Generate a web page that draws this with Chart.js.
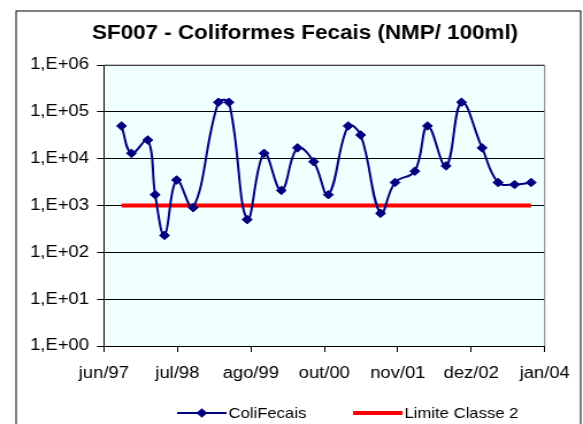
<!DOCTYPE html>
<html>
<head>
<meta charset="utf-8">
<title>SF007 - Coliformes Fecais</title>
<script src="https://cdn.jsdelivr.net/npm/chart.js@4.4.1/dist/chart.umd.min.js"></script>
<style>
    html, body { margin: 0; padding: 0; background: #fff; overflow: hidden; }
    #sf007Chart { display: block; }
</style>
</head>
<body>
<!-- desenhado com 507px de largura e esticado para 583px na horizontal -->
<canvas id="sf007Chart" width="507" height="424" style="width: 583px; height: 424px;"></canvas>
<script>
let inicio = '1997-06-20';   // origem do eixo x (jun/97)

let datas = [
    '1997-09-24', '1997-11-17', '1998-02-14', '1998-03-26', '1998-05-16', '1998-07-21',
    '1998-10-19', '1999-03-05', '1999-05-02', '1999-08-09', '1999-11-09', '2000-02-11',
    '2000-05-09', '2000-08-05', '2000-10-24', '2001-02-09', '2001-04-18', '2001-08-04',
    '2001-10-22', '2002-02-07', '2002-04-17', '2002-07-27', '2002-10-19', '2003-02-08',
    '2003-05-06', '2003-08-04', '2003-11-02'
];
let coliFecais = [
    50000, 13000, 25000, 1700, 230, 3500,
    900, 160000, 160000, 500, 13000, 2100,
    17000, 8600, 1700, 50000, 32000, 680,
    3100, 5400, 50000, 7000, 160000, 17000,
    3100, 2800, 3100
];
let limiteClasse2 = 1000;
let rotulosX = ['jun/97', 'jul/98', 'ago/99', 'out/00', 'nov/01', 'dez/02', 'jan/04'];
let decadasY = [1, 10, 100, 1000, 10000, 100000, 1000000];

let fonte = '"Liberation Sans", Arial, sans-serif';

function dia(d) {
    return (Date.parse(d) - Date.parse(inicio)) / 86400000;
}

// moldura do grafico, fundo da area de plotagem e legenda no estilo Excel
const molduraExcel = {
    id: 'molduraExcel',
    afterLayout(chart, args, opts) {
        let t = chart.titleBlock;
        if (t) {
            t.left += opts.deslocTitulo;
            t.right += opts.deslocTitulo;
        }
    },
    beforeDraw(chart, args, opts) {
        let ctx = chart.ctx;
        let a = chart.chartArea;
        ctx.save();
        ctx.fillStyle = '#fff';
        ctx.fillRect(0, 0, chart.width, chart.height);
        ctx.strokeStyle = '#000';
        ctx.lineWidth = 1;
        ctx.strokeRect(opts.moldura.left, opts.moldura.top, opts.moldura.right - opts.moldura.left, chart.height + 20);
        ctx.fillStyle = opts.fundo;
        ctx.fillRect(a.left, a.top, a.right - a.left, a.bottom - a.top);
        ctx.restore();
    },
    beforeDatasetsDraw(chart, args, opts) {
        let ctx = chart.ctx;
        let a = chart.chartArea;
        ctx.save();
        ctx.strokeStyle = opts.bordaPlot;
        ctx.lineWidth = 1;
        ctx.beginPath();
        ctx.moveTo(a.left, a.top);
        ctx.lineTo(a.right, a.top);
        ctx.lineTo(a.right, a.bottom);
        ctx.stroke();
        ctx.restore();
    },
    afterDraw(chart, args, opts) {
        let ctx = chart.ctx;
        let leg = opts.legenda;
        ctx.save();
        ctx.font = leg.tamanho + 'px ' + fonte;
        ctx.textBaseline = 'middle';
        ctx.textAlign = 'left';
        chart.data.datasets.forEach((ds, i) => {
            let x0 = leg.itens[i];
            let x1 = x0 + leg.linha;
            ctx.strokeStyle = ds.borderColor;
            ctx.lineWidth = ds.borderWidth;
            ctx.beginPath();
            ctx.moveTo(x0, leg.y);
            ctx.lineTo(x1, leg.y);
            ctx.stroke();
            if (ds.pointRadius > 0) {
                let xm = (x0 + x1) / 2;
                let r = ds.pointRadius + 0.5;
                ctx.fillStyle = ds.backgroundColor;
                ctx.beginPath();
                ctx.moveTo(xm, leg.y - r);
                ctx.lineTo(xm + r, leg.y);
                ctx.lineTo(xm, leg.y + r);
                ctx.lineTo(xm - r, leg.y);
                ctx.closePath();
                ctx.fill();
            }
            ctx.fillStyle = '#000';
            ctx.fillText(ds.label, x1 + leg.folga, leg.y + 0.5);
        });
        ctx.restore();
    }
};

function drawChart(chart_id) {
    let ctx = document.getElementById(chart_id).getContext('2d');

    let pontos = datas.map((d, i) => ({ x: dia(d), y: coliFecais[i] }));
    let limite = [
        { x: dia(datas[0]), y: limiteClasse2 },
        { x: dia(datas[datas.length - 1]), y: limiteClasse2 }
    ];

    let chart_data = {
        datasets: [
            {
                label: 'ColiFecais',
                data: pontos,
                borderColor: '#000080',
                backgroundColor: '#000080',
                borderWidth: 2,
                pointStyle: 'rectRot',
                pointRadius: 4.3,
                pointBorderWidth: 1,
                pointBorderColor: '#000080',
                pointBackgroundColor: '#000080',
                tension: 0.4,
                order: 0
            },
            {
                label: 'Limite Classe 2',
                data: limite,
                borderColor: '#FF0000',
                backgroundColor: '#FF0000',
                borderWidth: 4,
                pointRadius: 0,
                order: 1
            }
        ]
    };

    let chart_options = {
        responsive: false,
        devicePixelRatio: 1,
        animation: false,
        layout: { padding: { left: 19.2, right: 29.6, top: 0, bottom: 29.8 } },
        scales: {
            x: {
                type: 'linear',
                min: 0,
                max: 2400,
                ticks: {
                    stepSize: 400,
                    autoSkip: false,
                    maxRotation: 0,
                    padding: 11.5,
                    color: '#000',
                    font: { family: fonte, size: 16 },
                    callback: (v, i) => rotulosX[i]
                },
                grid: { drawOnChartArea: false, tickLength: 6, color: '#000' },
                border: { color: '#000', width: 1 }
            },
            y: {
                type: 'logarithmic',
                min: 1,
                max: 1000000,
                afterBuildTicks: (scale) => {
                    scale.ticks = decadasY.map((v) => ({ value: v }));
                },
                ticks: {
                    padding: 7,
                    color: '#000',
                    font: { family: fonte, size: 16 },
                    callback: (v) => '1,E+' + String(Math.round(Math.log10(v))).padStart(2, '0')
                },
                grid: { color: '#000', lineWidth: 1, tickLength: 6 },
                border: { color: '#000', width: 1 }
            }
        },
        plugins: {
            legend: { display: false },
            tooltip: { enabled: false },
            title: {
                display: true,
                text: 'SF007 - Coliformes Fecais (NMP/ 100ml)',
                color: '#000',
                font: { family: fonte, size: 19.5, weight: 'bold' },
                padding: { top: 22.3, bottom: 19.3 }
            },
            molduraExcel: {
                deslocTitulo: 17,
                moldura: { left: 14, top: 11, right: 505 },
                fundo: '#F0FFFF',
                bordaPlot: '#808080',
                legenda: { y: 413, itens: [154, 307], linha: 43, folga: 1.7, tamanho: 14.5 }
            }
        }
    };

    return new Chart(ctx, { type: 'line', data: chart_data, options: chart_options, plugins: [molduraExcel] });
}

drawChart('sf007Chart');
</script>
</body>
</html>
